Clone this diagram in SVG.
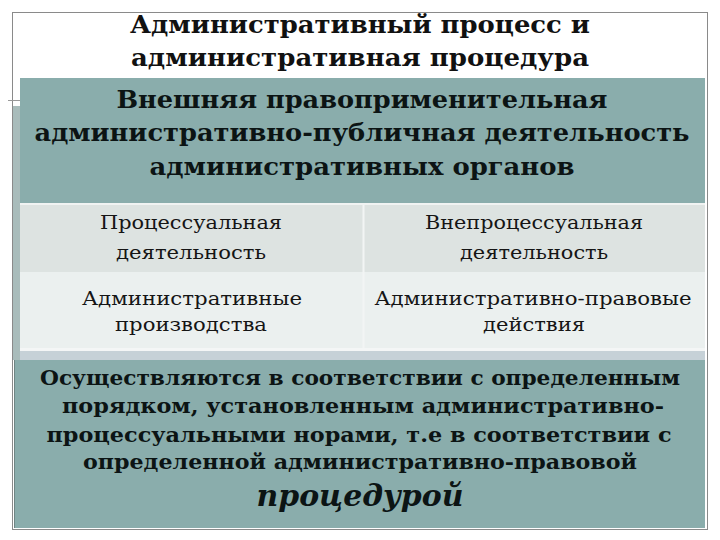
<svg xmlns="http://www.w3.org/2000/svg" width="720" height="540" viewBox="0 0 720 540">
<style>
.frame{fill:none;stroke:#8a8a8a;stroke-width:1}
.teal{fill:#8aadac}
text{font-family:"DejaVu Serif","Liberation Serif",serif;text-anchor:middle}
.title{font-weight:bold;font-size:25px;fill:#111}
.hdr{font-weight:bold;font-size:25px;fill:#0c1414}
.cell{font-size:19px;fill:#151515}
.body{font-weight:bold;font-size:21px;fill:#0c1414}
.em{font-weight:bold;font-style:italic;font-size:29px;fill:#0c1414}
</style>
<rect width="720" height="540" fill="#ffffff"/>
<g id="frame">
<rect class="frame" x="12.5" y="12.5" width="695" height="517"/>
<line x1="8" y1="100.5" x2="22" y2="100.5" stroke="#9a9a9a" stroke-width="1"/>
<rect x="13" y="106" width="7" height="254" fill="#a9bcbb"/>
</g>
<g id="title">
<text class="title" x="360" y="33" textLength="460" lengthAdjust="spacingAndGlyphs">Административный процесс и</text>
<text class="title" x="360" y="66" textLength="458" lengthAdjust="spacingAndGlyphs">административная процедура</text>
</g>
<g id="header">
<rect class="teal" x="20" y="78" width="685" height="125"/>
<text class="hdr" x="362" y="108" textLength="491" lengthAdjust="spacingAndGlyphs">Внешняя правоприменительная</text>
<text class="hdr" x="362" y="141" textLength="655" lengthAdjust="spacingAndGlyphs">административно-публичная деятельность</text>
<text class="hdr" x="362" y="175" textLength="425" lengthAdjust="spacingAndGlyphs">административных органов</text>
</g>
<g id="table">
<rect x="20" y="203" width="685" height="2" fill="#f0f3f2"/>
<rect x="20" y="205" width="685" height="67" fill="#dde3e1"/>
<rect x="20" y="272" width="685" height="76" fill="#ebf0ef"/>
<rect x="20" y="348" width="685" height="3" fill="#f4f6f6"/>
<rect x="20" y="351" width="685" height="9" fill="#c6d1d7"/>
<line x1="363.5" y1="205" x2="363.5" y2="348" stroke="#f2f5f4" stroke-width="2"/>
</g>
<g id="cell-processual">
<text class="cell" x="191" y="229" textLength="182" lengthAdjust="spacingAndGlyphs">Процессуальная</text>
<text class="cell" x="191" y="259" textLength="150" lengthAdjust="spacingAndGlyphs">деятельность</text>
</g>
<g id="cell-nonprocessual">
<text class="cell" x="534" y="229" textLength="218" lengthAdjust="spacingAndGlyphs">Внепроцессуальная</text>
<text class="cell" x="534" y="259" textLength="148" lengthAdjust="spacingAndGlyphs">деятельность</text>
</g>
<g id="cell-proceedings">
<text class="cell" x="192" y="305" textLength="220" lengthAdjust="spacingAndGlyphs">Административные</text>
<text class="cell" x="191" y="331" textLength="152" lengthAdjust="spacingAndGlyphs">производства</text>
</g>
<g id="cell-actions">
<text class="cell" x="533" y="305" textLength="317" lengthAdjust="spacingAndGlyphs">Административно-правовые</text>
<text class="cell" x="534" y="331" textLength="102" lengthAdjust="spacingAndGlyphs">действия</text>
</g>
<g id="bottom">
<rect class="teal" x="14" y="360" width="691" height="168"/>
<line x1="14.5" y1="360" x2="14.5" y2="528" stroke="#6f8584" stroke-width="1"/>
<text class="body" x="360" y="385" textLength="640" lengthAdjust="spacingAndGlyphs">Осуществляются в соответствии с определенным</text>
<text class="body" x="363" y="413" textLength="602" lengthAdjust="spacingAndGlyphs">порядком, установленным административно-</text>
<text class="body" x="359" y="442" textLength="625" lengthAdjust="spacingAndGlyphs">процессуальными норами, т.е  в соответствии с</text>
<text class="body" x="360" y="469" textLength="554" lengthAdjust="spacingAndGlyphs">определенной административно-правовой</text>
<text class="em" x="360" y="506" textLength="207" lengthAdjust="spacingAndGlyphs">процедурой</text>
</g>
</svg>
